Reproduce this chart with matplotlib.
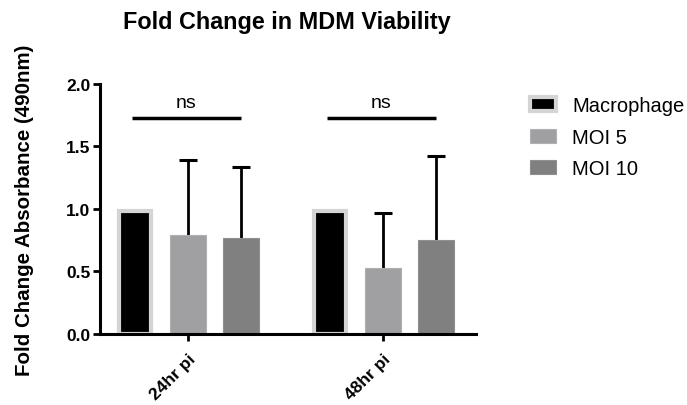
import numpy as np
import matplotlib.pyplot as plt

plt.rcParams['font.family'] = ['Liberation Sans', 'DejaVu Sans']

groups = ['24hr pi', '48hr pi']
series = ['Macrophage', 'MOI 5', 'MOI 10']
macrophage = [0.985, 0.985]
moi5 = [0.79, 0.53]
moi10 = [0.765, 0.75]
moi5_err = [0.605, 0.44]
moi10_err = [0.57, 0.675]
ns_level = 1.725

fig = plt.figure(figsize=(6.87, 4.06), dpi=100)
ax = fig.add_axes([0.1456, 0.175, 0.5470, 0.616])

x = np.arange(len(groups))
off = 0.272
w = 0.185

ax.bar(x - off, macrophage, 0.165, color='black', edgecolor='#d4d4d4', linewidth=3,
       label=series[0], zorder=2)
ax.bar(x, moi5, w, color='#a0a0a3', edgecolor='#b0b0b3', linewidth=0.8, label=series[1], zorder=2)
ax.bar(x + off, moi10, w, color='#808080', edgecolor='#909090', linewidth=0.8, label=series[2], zorder=2)

# upper-only error bars: stem + cap
for xs, vals, errs in [(x, moi5, moi5_err), (x + off, moi10, moi10_err)]:
    tops = np.array(vals) + np.array(errs)
    ax.vlines(xs, vals, tops, color='black', lw=2, zorder=1)
    ax.plot(xs, tops, ls='none', marker='_', markersize=13, mew=2.2, color='black', zorder=1)

# significance bars
for xi in x:
    ax.plot([xi - off - 0.015, xi + off], [ns_level, ns_level], color='black', lw=2.5,
            solid_capstyle='butt')
    ax.text(xi - 0.01, ns_level + 0.055, 'ns', ha='center', va='bottom', fontsize=14)

ax.set_xlim(-0.451, 1.475)
ax.set_ylim(0, 2.0)
ax.set_yticks([0, 0.5, 1.0, 1.5, 2.0])
ax.set_yticklabels(['0.0', '0.5', '1.0', '1.5', '2.0'], fontsize=12.5, fontweight='bold')
ax.set_xticks(x)
ax.set_xticklabels(groups, rotation=45, ha='right', rotation_mode='anchor',
                   fontsize=12.5, fontweight='bold')
ax.tick_params(axis='y', width=2, length=5, pad=2)
ax.tick_params(axis='x', width=2, length=5, pad=7)
for s in ['top', 'right']:
    ax.spines[s].set_visible(False)
for s in ['left', 'bottom']:
    ax.spines[s].set_linewidth(2.2)

ax.set_ylabel('Fold Change Absorbance (490nm)', fontsize=14.8, fontweight='bold')
ax.yaxis.set_label_coords(-0.175, 0.5)
fig.text(287 / 687, 1 - 28.5 / 406, 'Fold Change in MDM Viability', ha='center', va='baseline',
         fontsize=16.8, fontweight='bold')

fig.legend(loc='upper left', bbox_to_anchor=(0.7598, 0.781), frameon=False, fontsize=14.5,
           borderaxespad=0, handlelength=1.29, handleheight=0.7, labelspacing=0.63,
           handletextpad=0.8)

fig.savefig('out.png', dpi=100)
